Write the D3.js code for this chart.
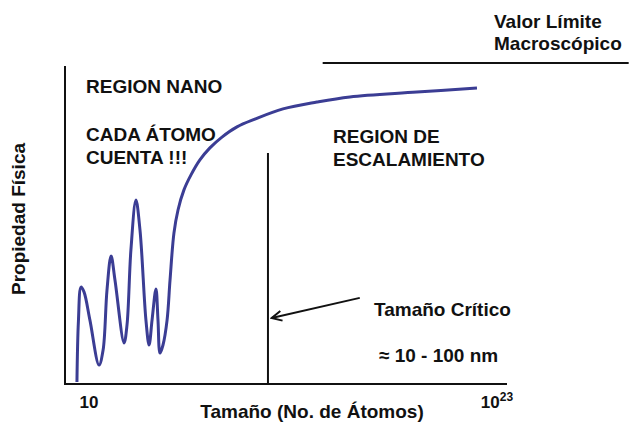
<!DOCTYPE html>
<html>
<head>
<meta charset="utf-8">
<script src="https://cdn.jsdelivr.net/npm/d3@7"></script>
<style>
  body { margin: 0; background: #fff; }
  text { font-family: "Liberation Sans", Arial, sans-serif; font-weight: bold; fill: #111; }
</style>
</head>
<body>
<div id="chart"></div>
<script>
// log10(numero de atomos) vs propiedad (unidades arbitrarias)
var logN = [0.35, 0.43, 0.57, 0.73, 1.05, 1.54, 1.76, 1.97, 2.19, 2.40, 2.89, 3.05, 3.26, 3.53, 3.75,
            4.07, 4.24, 4.40, 4.61, 4.72, 4.83, 4.99, 5.21, 5.37, 5.58, 5.80, 6.12, 6.50, 6.98, 7.52,
            8.17, 8.98, 9.95, 11.46, 13.29, 15.07, 18.68, 21.92];
var propiedad = [0.7, 21, 32.3, 30.7, 21.3, 6.3, 11.3, 31.3, 42.7, 34.7, 13.7, 19.7, 44.7, 61.3, 51.3,
                 21.3, 13, 21.3, 31.7, 21.3, 10.3, 13, 21.3, 34.7, 50.3, 58, 64.7, 69.7, 74.7, 78.7,
                 82.3, 85.7, 88.3, 91.7, 94, 95.7, 97.3, 98.7];
var tickVals = [1, 23];
var tamCritico = 10.65;
var limiteMacro = 107;

var w = 634, h = 423;

var x = d3.scaleLinear().domain([1, 23]).range([89, 497]);
var y = d3.scaleLinear().domain([0, 106]).range([384, 66]);

var svg = d3.select("#chart").append("svg")
    .attr("width", w)
    .attr("height", h);

svg.append("defs").append("marker")
    .attr("id", "flecha")
    .attr("viewBox", "-12 -7 14 14")
    .attr("refX", 0)
    .attr("refY", 0)
    .attr("markerWidth", 14)
    .attr("markerHeight", 14)
    .attr("markerUnits", "userSpaceOnUse")
    .attr("orient", "auto")
  .append("path")
    .attr("d", "M-10,-5L0,0L-10,5")
    .attr("fill", "none")
    .attr("stroke", "#111")
    .attr("stroke-width", 2);

// ejes
svg.append("line")
    .attr("x1", 65).attr("x2", 65)
    .attr("y1", y(106)).attr("y2", y(0))
    .attr("stroke", "#111").attr("stroke-width", 2);
svg.append("line")
    .attr("x1", 64).attr("x2", 507)
    .attr("y1", y(0)).attr("y2", y(0))
    .attr("stroke", "#111").attr("stroke-width", 2);

// tamaño critico
svg.append("line")
    .attr("x1", x(tamCritico)).attr("x2", x(tamCritico))
    .attr("y1", y(77)).attr("y2", y(0))
    .attr("stroke", "#111").attr("stroke-width", 2);

// valor limite
svg.append("line")
    .attr("x1", x(13.6)).attr("x2", x(30.1))
    .attr("y1", y(limiteMacro)).attr("y2", y(limiteMacro))
    .attr("stroke", "#111").attr("stroke-width", 2);

// flecha
svg.append("line")
    .attr("x1", x(15.6)).attr("y1", y(28.7))
    .attr("x2", x(10.85)).attr("y2", y(22))
    .attr("stroke", "#111").attr("stroke-width", 2)
    .attr("marker-end", "url(#flecha)");

// curva
var line = d3.line()
    .x(function(d) { return x(d[0]); })
    .y(function(d) { return y(d[1]); })
    .curve(d3.curveCatmullRom.alpha(0.5));

svg.append("path")
    .datum(d3.zip(logN, propiedad))
    .attr("d", line)
    .attr("fill", "none")
    .attr("stroke", "#3b3d94")
    .attr("stroke-width", 3);

// etiquetas de ticks
svg.selectAll("text.tick")
    .data(tickVals)
    .enter().append("text")
    .attr("class", "tick")
    .attr("x", function(d) { return x(d); })
    .attr("y", 408)
    .attr("text-anchor", "middle")
    .style("font-size", "17px")
    .each(function(d) {
        var t = d3.select(this);
        t.append("tspan").text("10");
        if (d > 1) t.append("tspan").attr("dy", -7).style("font-size", "12px").text(d);
    });

svg.append("text")
    .attr("x", 312).attr("y", 418)
    .attr("text-anchor", "middle")
    .style("font-size", "19px")
    .text("Tamaño (No. de Átomos)");

svg.append("text")
    .attr("transform", "translate(25,219) rotate(-90)")
    .attr("text-anchor", "middle")
    .style("font-size", "19px")
    .text("Propiedad Física");

var notas = [
    { t: "REGION NANO", x: 86, y: 93 },
    { t: "CADA ÁTOMO", x: 86, y: 141 },
    { t: "CUENTA !!!", x: 86, y: 164 },
    { t: "REGION DE", x: 333, y: 143 },
    { t: "ESCALAMIENTO", x: 333, y: 166 },
    { t: "Valor Límite", x: 494, y: 28 },
    { t: "Macroscópico", x: 494, y: 50 },
    { t: "Tamaño Crítico", x: 374, y: 316 },
    { t: "≈ 10 - 100 nm", x: 379, y: 362 }
];

svg.selectAll("text.nota")
    .data(notas)
    .enter().append("text")
    .attr("class", "nota")
    .attr("x", function(d) { return d.x; })
    .attr("y", function(d) { return d.y; })
    .style("font-size", "19px")
    .text(function(d) { return d.t; });
</script>
</body>
</html>
